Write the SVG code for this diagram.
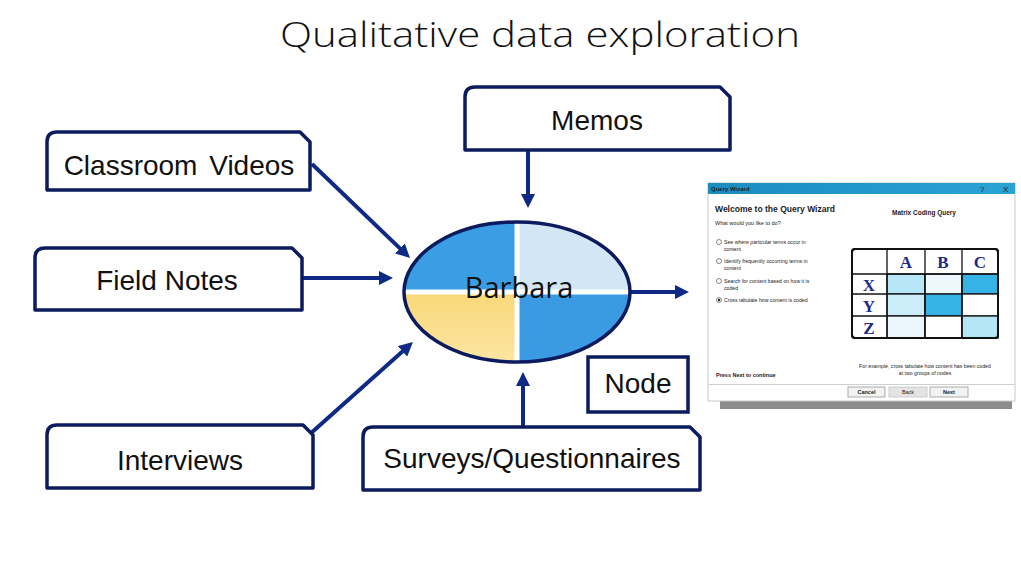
<svg xmlns="http://www.w3.org/2000/svg" width="1021" height="572" viewBox="0 0 1021 572">
<style>
.box{fill:#ffffff;stroke:#0b1b5e;stroke-width:3.5;stroke-linejoin:round}
.lbl{font-family:"Liberation Sans",Arial,sans-serif;font-size:28px;fill:#111;text-anchor:middle}
.conn{stroke:#0f2a86;stroke-width:4;fill:none;marker-end:url(#ah)}
.wt{font-family:"Liberation Sans",Arial,sans-serif;fill:#222}
.gl{font-family:"Liberation Serif","Times New Roman",serif;font-weight:bold;font-size:17px;fill:#1c2a8c;text-anchor:middle}
.cell{stroke:#111;stroke-width:1.3}
.btn{fill:#f2f2f2;stroke:#9a9a9a;stroke-width:0.8}
</style>
<defs>
<marker id="ah" markerUnits="userSpaceOnUse" markerWidth="16" markerHeight="14" refX="4" refY="7" orient="auto">
<path d="M0,0 L14,7 L0,14 Z" fill="#0f2a86"/>
</marker>
<clipPath id="ec"><ellipse cx="517" cy="292" rx="113" ry="70"/></clipPath>
<linearGradient id="tb" x1="0" y1="0" x2="1" y2="0">
<stop offset="0" stop-color="#1a8cc0"/><stop offset="1" stop-color="#2aa3d4"/>
</linearGradient>
<linearGradient id="yl" x1="0" y1="0" x2="0" y2="1">
<stop offset="0" stop-color="#f8d877"/><stop offset="1" stop-color="#fbe6a6"/>
</linearGradient>
</defs>
<rect width="1021" height="572" fill="#ffffff"/>
<text x="540" y="47" font-family="'Open Sans','Liberation Sans',sans-serif" font-weight="300" font-size="35" fill="#111" text-anchor="middle" textLength="520" lengthAdjust="spacingAndGlyphs">Qualitative data exploration</text>
<g id="connectors">
<line class="conn" x1="312" y1="164" x2="402.8" y2="251.1"/>
<line class="conn" x1="303" y1="278" x2="383" y2="278"/>
<line class="conn" x1="528" y1="150" x2="528" y2="198"/>
<line class="conn" x1="310" y1="434" x2="405.5" y2="348.7"/>
<line class="conn" x1="523" y1="427" x2="523" y2="382"/>
<line class="conn" x1="630" y1="292" x2="679" y2="292"/>
</g>
<g id="node-classroom-videos">
<path class="box" d="M47,190 L47,142 Q47,132 57,132 L300,132 L310,142 L310,190 Z"/>
<text class="lbl" x="179" y="175" word-spacing="4">Classroom Videos</text>
</g>
<g id="node-field-notes">
<path class="box" d="M35,310 L35,258 Q35,248 45,248 L292,248 L302,258 L302,310 Z"/>
<text class="lbl" x="167" y="290">Field Notes</text>
</g>
<g id="node-memos">
<path class="box" d="M465,150 L465,97 Q465,87 475,87 L720,87 L730,97 L730,150 Z"/>
<text class="lbl" x="597" y="130" font-size="29">Memos</text>
</g>
<g id="node-interviews">
<path class="box" d="M47,488 L47,435 Q47,425 57,425 L303,425 L313,435 L313,488 Z"/>
<text class="lbl" x="180" y="470">Interviews</text>
</g>
<g id="node-surveys">
<path class="box" d="M363,490 L363,437 Q363,427 373,427 L690,427 L700,437 L700,490 Z"/>
<text class="lbl" x="532" y="468" font-size="29">Surveys/Questionnaires</text>
</g>
<g id="node-barbara">
<g clip-path="url(#ec)">
<rect x="400" y="218" width="117" height="74" fill="#3b9de3"/>
<rect x="517" y="218" width="117" height="74" fill="#d2e6f6"/>
<rect x="400" y="292" width="117" height="74" fill="url(#yl)"/>
<rect x="517" y="292" width="117" height="74" fill="#3a9be2"/>
<line x1="517" y1="218" x2="517" y2="366" stroke="#ffffff" stroke-width="5"/>
<line x1="400" y1="292" x2="634" y2="292" stroke="#ffffff" stroke-width="5"/>
</g>
<ellipse cx="517" cy="292" rx="113" ry="70" fill="none" stroke="#0b1b5e" stroke-width="3.5"/>
<text x="519" y="298" font-family="'Open Sans','Liberation Sans',sans-serif" font-size="29" fill="#111" text-anchor="middle">Barbara</text>
</g>
<g id="node-node">
<rect x="588" y="357" width="100" height="55" fill="#ffffff" stroke="#0b1b5e" stroke-width="3.5"/>
<text class="lbl" x="638" y="393" font-size="31">Node</text>
</g>
<g id="query-wizard">
<rect x="720" y="398" width="292" height="11" fill="#8c8c8c"/>
<rect x="708" y="183" width="307" height="218" fill="#ffffff" stroke="#c8c8c8" stroke-width="1"/>
<rect x="708" y="183" width="307" height="11" fill="url(#tb)"/>
<text class="wt" x="711" y="191" font-size="6" font-weight="bold" fill="#1a2330">Query Wizard</text>
<text class="wt" x="980" y="192" font-size="8" fill="#1a2330">?</text>
<text class="wt" x="1003" y="192" font-size="8" fill="#1a2330">X</text>
<text class="wt" x="715" y="212" font-size="9" font-weight="bold" textLength="120" lengthAdjust="spacingAndGlyphs">Welcome to the Query Wizard</text>
<text class="wt" x="715" y="225" font-size="5.5">What would you like to do?</text>
<g fill="#fff" stroke="#555" stroke-width="0.7">
<circle cx="719" cy="242" r="2.5"/><circle cx="719" cy="261" r="2.5"/><circle cx="719" cy="281" r="2.5"/><circle cx="719" cy="300" r="2.5"/>
</g>
<circle cx="719" cy="300" r="1.2" fill="#222"/>
<g class="wt" font-size="5.2">
<text x="724" y="244">See where particular terms occur in</text>
<text x="724" y="251">content</text>
<text x="724" y="263">Identify frequently occurring terms in</text>
<text x="724" y="270">content</text>
<text x="724" y="283">Search for content based on how it is</text>
<text x="724" y="290">coded</text>
<text x="724" y="302">Cross tabulate how content is coded</text>
</g>
<text class="wt" x="924" y="215" font-size="6.5" font-weight="bold" text-anchor="middle">Matrix Coding Query</text>
<rect x="852" y="249" width="146" height="89" rx="3" fill="#ffffff" stroke="#111" stroke-width="2"/>
<rect class="cell" x="887" y="274" width="38" height="20" fill="#b6e6f8"/>
<rect class="cell" x="925" y="274" width="37" height="20" fill="#eef8fc"/>
<rect class="cell" x="962" y="274" width="36" height="20" fill="#36b3e6"/>
<rect class="cell" x="887" y="294" width="38" height="22" fill="#cbecf9"/>
<rect class="cell" x="925" y="294" width="37" height="22" fill="#36b2e5"/>
<rect class="cell" x="962" y="294" width="36" height="22" fill="#ffffff"/>
<rect class="cell" x="887" y="316" width="38" height="22" fill="#ebf7fc"/>
<rect class="cell" x="925" y="316" width="37" height="22" fill="#ffffff"/>
<rect class="cell" x="962" y="316" width="36" height="22" fill="#b4e6f8"/>
<g stroke="#111" stroke-width="1.3">
<line x1="852" y1="274" x2="998" y2="274"/>
<line x1="887" y1="249" x2="887" y2="338"/>
<line x1="925" y1="249" x2="925" y2="338"/>
<line x1="962" y1="249" x2="962" y2="338"/>
<line x1="852" y1="294" x2="887" y2="294"/>
<line x1="852" y1="316" x2="887" y2="316"/>
</g>
<rect x="852" y="249" width="146" height="89" rx="3" fill="none" stroke="#111" stroke-width="2"/>
<text class="gl" x="906" y="268">A</text>
<text class="gl" x="943" y="268">B</text>
<text class="gl" x="980" y="268">C</text>
<text class="gl" x="869" y="291">X</text>
<text class="gl" x="869" y="312">Y</text>
<text class="gl" x="869" y="334">Z</text>
<text class="wt" x="925" y="368" font-size="5.2" text-anchor="middle">For example, cross tabulate how content has been coded</text>
<text class="wt" x="925" y="375" font-size="5.2" text-anchor="middle">at two groups of nodes</text>
<text class="wt" x="716" y="377" font-size="5.5" font-weight="bold">Press Next to continue</text>
<line x1="709" y1="384.5" x2="1014" y2="384.5" stroke="#cfcfcf" stroke-width="1"/>
<rect class="btn" x="848" y="387" width="37" height="10"/>
<rect x="889" y="387" width="38" height="10" fill="#e4e4e4" stroke="#c4c4c4" stroke-width="0.8"/>
<rect class="btn" x="930" y="387" width="38" height="10"/>
<text class="wt" x="866.5" y="394" font-size="5.5" font-weight="bold" text-anchor="middle">Cancel</text>
<text class="wt" x="908" y="394" font-size="5.5" text-anchor="middle" fill="#b0b0b0">Back</text>
<text class="wt" x="949" y="394" font-size="5.5" font-weight="bold" text-anchor="middle">Next</text>
</g>
</svg>
